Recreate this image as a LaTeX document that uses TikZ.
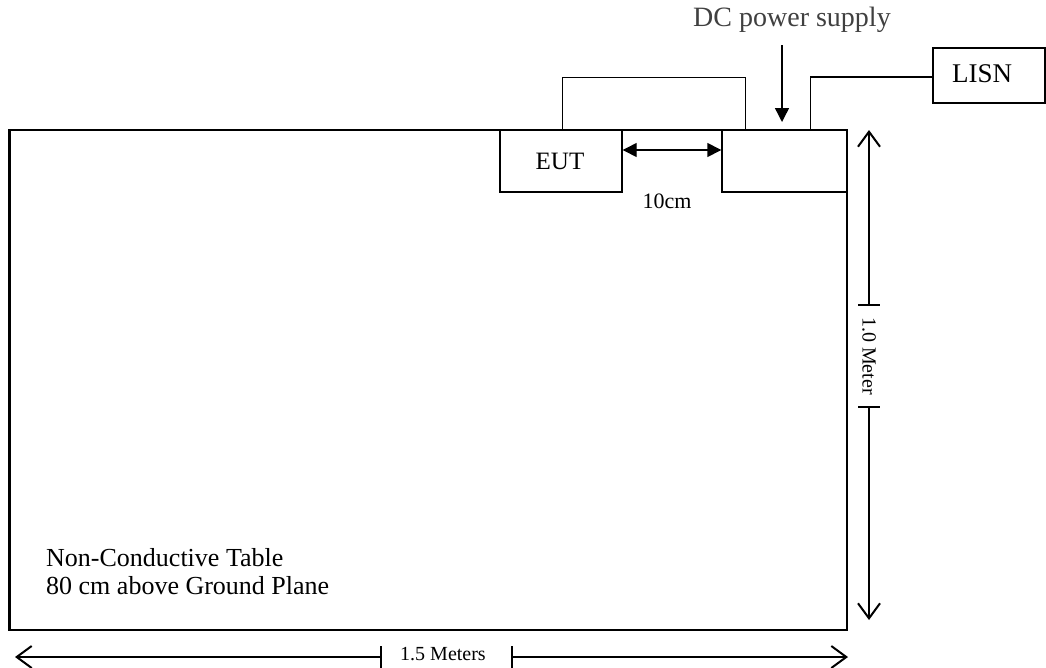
\documentclass[tikz,border=0pt]{standalone}
\usepackage{fontspec}
\setmainfont{Liberation Serif}
\usetikzlibrary{arrows.meta}
\tikzset{
  box/.style={draw, line width=1.4pt, inner sep=0pt},
  tablebox/.style={draw, line width=2.8pt, inner sep=0pt},
  cable/.style={line width=1.4pt},
  fillarrow/.style={line width=1.4pt, -{Triangle[length=14pt,width=14pt]}},
  dimarrow/.style={line width=1.2pt, -{Straight Barb[length=15pt,width=22pt,line width=2pt]}},
  tick/.style={line width=1.2pt},
  lbl/.style={inner sep=0pt, text=black},
}
\begin{document}
\begin{tikzpicture}[x=1pt,y=-1pt]
\useasboundingbox (0,0) rectangle (1046,667);
% boxes
\node[box, minimum width=122pt, minimum height=62pt] (eut) at (561,161) {};
\node[lbl, font=\fontsize{25}{30}\selectfont] at (560,161.5) {EUT};
\node[box, minimum width=125pt, minimum height=62pt] (dc) at (784.5,161) {};
\node[box, minimum width=112pt, minimum height=55pt] (lisn) at (989,75.5) {};
\node[lbl, font=\fontsize{27}{32}\selectfont] (lisntext) at (982,73.5) {LISN};
% table
\node[tablebox, minimum width=837.5pt, minimum height=500pt] (table) at (428.25,380) {};
\node[lbl, anchor=base west, align=left, font=\fontsize{26}{28}\selectfont] (tabletext) at (46,594)
  {Non-Conductive Table\\80 cm above Ground Plane};
% cables
\draw[cable] ([xshift=63pt]eut.north west) -- ++(0,-52) -| ([xshift=24pt]dc.north west);
\draw[cable] ([xshift=89pt]dc.north west) |- ([yshift=-1.5pt]lisn.west);
% DC power supply label and arrow
\node[lbl, text=black!75, font=\fontsize{28}{32}\selectfont] (dclabel) at (792,20) {DC power supply};
\coordinate (dctip) at (782,122);
\draw[fillarrow] (dctip |- 0,45) -- (dctip);
% 10cm spacing
\draw[line width=1.4pt, {Triangle[length=14pt,width=14pt]}-{Triangle[length=14pt,width=14pt]}]
  ([yshift=11pt]eut.east) -- ([yshift=11pt]dc.west);
\node[lbl, font=\fontsize{22}{26}\selectfont] (tencm) at (667,201.5) {10cm};
% vertical dimension
\coordinate (vtop) at (869,130);
\coordinate (vbot) at (869,620);
\coordinate (vt1) at (869,305);
\coordinate (vt2) at (869,407);
\draw[dimarrow] (vt1) -- (vtop);
\draw[dimarrow] (vt2) -- (vbot);
\draw[tick] ([xshift=-11pt]vt1) -- ([xshift=11pt]vt1);
\draw[tick] ([xshift=-11pt]vt2) -- ([xshift=11pt]vt2);
\node[lbl, rotate=-90, font=\fontsize{20}{24}\selectfont] (vlabel) at (869,356) {1.0 Meter};
% horizontal dimension
\coordinate (hleft) at (15,657);
\coordinate (hright) at (848,657);
\coordinate (ht1) at (381,657);
\coordinate (ht2) at (512,657);
\draw[dimarrow] (ht1) -- (hleft);
\draw[dimarrow] (ht2) -- (hright);
\draw[tick] ([yshift=11pt]ht1) -- ([yshift=-11pt]ht1);
\draw[tick] ([yshift=11pt]ht2) -- ([yshift=-11pt]ht2);
\node[lbl, font=\fontsize{20}{24}\selectfont] (hlabel) at (443,654) {1.5 Meters};
\end{tikzpicture}
\end{document}
